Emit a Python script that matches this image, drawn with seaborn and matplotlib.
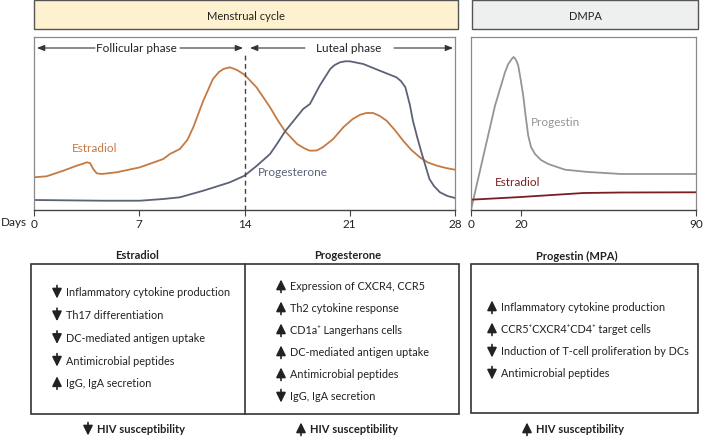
import numpy as np
import pandas as pd
import seaborn as sns
import matplotlib.pyplot as plt
from matplotlib.patches import Rectangle

# ---- data ----
# menstrual cycle, levels in arbitrary units (0 = baseline of the plot)
estradiol_days = [0, 0.84, 1.95, 2.84, 3.3, 3.5, 3.72, 3.94, 4.17, 4.5, 5.5, 7.05, 8.6, 9.04,
                  9.7, 10.2, 10.6, 11.26, 11.9, 12.3, 12.6, 13.03, 13.5, 14, 14.8, 15.7, 16.2,
                  16.7, 17.5, 18.0, 18.35, 18.8, 19.2, 19.9, 20.57, 21.2, 21.7, 22.1, 22.56,
                  23.0, 23.45, 24.0, 24.55, 25.1, 25.66, 26.2, 26.8, 27.4, 28]
estradiol_level = [32.7, 33.7, 39.3, 44.3, 46.5, 47.7, 47, 41, 36.7, 36, 37.7, 42.7, 51, 56,
                   61, 70, 83, 109.3, 131, 138, 141, 142.7, 140, 135.3, 122.7, 102.7, 90,
                   78.7, 66, 61.5, 59.3, 59.5, 62.7, 71, 82.7, 91, 95.3, 97, 97,
                   94, 89.3, 80, 69.3, 60, 52.7, 47.5, 44.3, 42, 40.3]

progesterone_days = [0, 4.5, 7.05, 8.6, 9.7, 11.26, 13.03, 14, 14.8, 15.7, 16.2, 16.7, 17.9,
                     18.35, 19.0, 19.7, 20.0, 20.35, 20.7, 21, 21.9, 23, 24.1, 24.4, 24.7,
                     25.0, 25.2, 25.5, 25.8, 26.3, 26.6, 27, 27.5, 28]
progesterone_level = [10, 9.3, 9.3, 11, 12.7, 19.3, 27.7, 34.3, 44, 56, 67, 78.7, 101,
                      106, 124.3, 141, 145, 147.7, 148.7, 148.7, 146, 139.3, 132.7, 129, 122.7,
                      105, 89.3, 72, 56, 31, 24, 17.7, 14, 12]

# DMPA
progestin_days = [0, 1.6, 5.6, 9.6, 13.6, 14.9, 16.3, 17.0, 17.6, 18.2, 18.9, 19.9, 20.9,
                  21.9, 22.9, 24.0, 25.6, 28, 30.9, 37.6, 45.6, 49, 60, 90]
progestin_level = [0, 17.7, 61, 104.3, 137.7, 146, 151, 153, 151.7, 149, 144.3, 130, 114.3,
                   93, 74.3, 63, 56, 50, 46, 40.3, 38.3, 37.7, 36, 36]
dmpa_estradiol_days = [0, 20, 45, 60, 90]
dmpa_estradiol_level = [10.3, 13, 17, 17.5, 17.7]

cycle_ticks = [0, 7, 14, 21, 28]
dmpa_ticks = [0, 20, 90]

estradiol_effects = ["Inflammatory cytokine production", "Th17 differentiation",
                     "DC-mediated antigen uptake", "Antimicrobial peptides", "IgG, IgA secretion"]
estradiol_dirs = ["down", "down", "down", "down", "up"]
progesterone_effects = ["Expression of CXCR4, CCR5", "Th2 cytokine response",
                        "CD1a\u207a Langerhans cells", "DC-mediated antigen uptake",
                        "Antimicrobial peptides", "IgG, IgA secretion"]
progesterone_dirs = ["up", "up", "up", "up", "up", "down"]
progestin_effects = ["Inflammatory cytokine production", "CCR5\u207aCXCR4\u207aCD4\u207a target cells",
                     "Induction of T-cell proliferation by DCs", "Antimicrobial peptides"]
progestin_dirs = ["up", "up", "down", "down"]

c_estr = "#c57a42"
c_prog = "#5b6276"
c_progestin = "#959595"
c_dmpa_estr = "#7a1e22"

sns.set_theme(style="white")
plt.rcParams["font.family"] = ["Lato", "DejaVu Sans"]

W, H = 712, 439
fig = plt.figure(figsize=(W / 100, H / 100), dpi=100)


def px_axes(x0, y0, x1, y1):
    return fig.add_axes([x0 / W, 1 - y1 / H, (x1 - x0) / W, (y1 - y0) / H])


def style_plot(ax, ticks, xmax):
    ax.set_xlim(0, xmax)
    ax.set_ylim(0, 173)
    ax.set_xticks(ticks)
    ax.set_yticks([])
    ax.set_xlabel("")
    ax.set_ylabel("")
    ax.patch.set_alpha(0)
    for s in ["top", "left", "right"]:
        ax.spines[s].set_color("#8a8a8a")
        ax.spines[s].set_linewidth(0.9)
    ax.spines["bottom"].set_color("#444444")
    ax.spines["bottom"].set_linewidth(1.0)
    ax.tick_params(axis="x", bottom=True, length=4, width=0.8, color="#444444",
                   labelsize=8.5, pad=2, labelcolor="#222222")


# ---- menstrual cycle plot ----
ax1 = px_axes(34, 38, 455, 211)
df_e = pd.DataFrame({"day": estradiol_days, "level": estradiol_level})
df_p = pd.DataFrame({"day": progesterone_days, "level": progesterone_level})
sns.lineplot(data=df_e, x="day", y="level", ax=ax1, color=c_estr, lw=1.3, estimator=None,
             solid_joinstyle="round")
sns.lineplot(data=df_p, x="day", y="level", ax=ax1, color=c_prog, lw=1.3, estimator=None,
             solid_joinstyle="round")
ax1.axvline(14, ymin=0, ymax=0.9, color="#444444", lw=1.0, ls=(0, (3.5, 2.5)))
style_plot(ax1, cycle_ticks, 28)
ax1.text(2.5, 63, "Estradiol", color=c_estr, fontsize=8.5, va="center")
ax1.text(14.9, 39, "Progesterone", color=c_prog, fontsize=8.5, va="center")

# ---- DMPA plot ----
ax2 = px_axes(471, 38, 696, 211)
df_g = pd.DataFrame({"day": progestin_days, "level": progestin_level})
df_d = pd.DataFrame({"day": dmpa_estradiol_days, "level": dmpa_estradiol_level})
sns.lineplot(data=df_g, x="day", y="level", ax=ax2, color=c_progestin, lw=1.3, estimator=None,
             solid_joinstyle="round")
sns.lineplot(data=df_d, x="day", y="level", ax=ax2, color=c_dmpa_estr, lw=1.3, estimator=None)
style_plot(ax2, dmpa_ticks, 90)
ax2.text(24, 89, "Progestin", color=c_progestin, fontsize=8.5, va="center")
ax2.text(9.6, 28, "Estradiol", color=c_dmpa_estr, fontsize=8.5, va="center")

# ---- overlay in pixel coordinates ----
ov = fig.add_axes([0, 0, 1, 1])
ov.set_xlim(0, W)
ov.set_ylim(H, 0)
ov.axis("off")
ov.patch.set_alpha(0)

# header boxes
ov.add_patch(Rectangle((34, 1), 424, 29, facecolor="#fdf1cf", edgecolor="#555555", lw=1.0))
ov.add_patch(Rectangle((472, 1), 226, 29, facecolor="#eef0ef", edgecolor="#555555", lw=1.0))
ov.text(246, 16, "Menstrual cycle", ha="center", va="center", fontsize=8, color="#222222")
ov.text(585, 16, "DMPA", ha="center", va="center", fontsize=8, color="#222222")

ov.text(1, 223, "Days", ha="left", va="center", fontsize=8.5, color="#222222")


def line_arrow(x0, x1, y):
    ov.annotate("", xy=(x1, y), xytext=(x0, y),
                arrowprops=dict(arrowstyle="-|>,head_width=0.18,head_length=0.45",
                                color="#333333", lw=0.8, shrinkA=0, shrinkB=0,
                                mutation_scale=10))


ov.text(136, 49, "Follicular phase", ha="center", va="center", fontsize=8.5, color="#222222")
line_arrow(95, 37, 49)
line_arrow(180, 243, 49)
ov.text(349, 49, "Luteal phase", ha="center", va="center", fontsize=8.5, color="#222222")
line_arrow(305, 250, 49)
line_arrow(394, 453, 49)


def vert_arrow(x, y, direction, size=6.5):
    if direction == "up":
        head, tail = (x, y - size), (x, y + size)
    else:
        head, tail = (x, y + size), (x, y - size)
    ov.annotate("", xy=head, xytext=tail,
                arrowprops=dict(arrowstyle="-|>,head_width=0.32,head_length=0.65",
                                color="#222222", lw=1.2, shrinkA=0, shrinkB=0,
                                mutation_scale=9))


# bottom boxes
ov.add_patch(Rectangle((31, 265), 428, 150, facecolor="none", edgecolor="#333333", lw=1.2))
ov.plot([245, 245], [265, 415], color="#333333", lw=1.2)
ov.add_patch(Rectangle((471, 265), 227, 149, facecolor="none", edgecolor="#333333", lw=1.2))

ov.text(137, 256, "Estradiol", ha="center", va="center", fontsize=8, fontweight="bold", color="#222222")
ov.text(348, 256, "Progesterone", ha="center", va="center", fontsize=8, fontweight="bold", color="#222222")
ov.text(577, 256, "Progestin (MPA)", ha="center", va="center", fontsize=8, fontweight="bold", color="#222222")


def effect_list(labels, dirs, x_arrow, x_text, y0, dy):
    for i, (lab, d) in enumerate(zip(labels, dirs)):
        y = y0 + i * dy
        vert_arrow(x_arrow, y, d)
        ov.text(x_text, y, lab, ha="left", va="center", fontsize=7.8, color="#222222")


effect_list(estradiol_effects, estradiol_dirs, 57, 66, 293, 22.7)
effect_list(progesterone_effects, progesterone_dirs, 281, 290, 287, 22)
effect_list(progestin_effects, progestin_dirs, 492, 501, 308, 22)

for xa, d in [(88, "down"), (301, "up"), (527, "up")]:
    vert_arrow(xa, 430, d)
    ov.text(xa + 9, 430, "HIV susceptibility", ha="left", va="center", fontsize=8,
            fontweight="bold", color="#222222")

fig.savefig("out.png", dpi=100)
